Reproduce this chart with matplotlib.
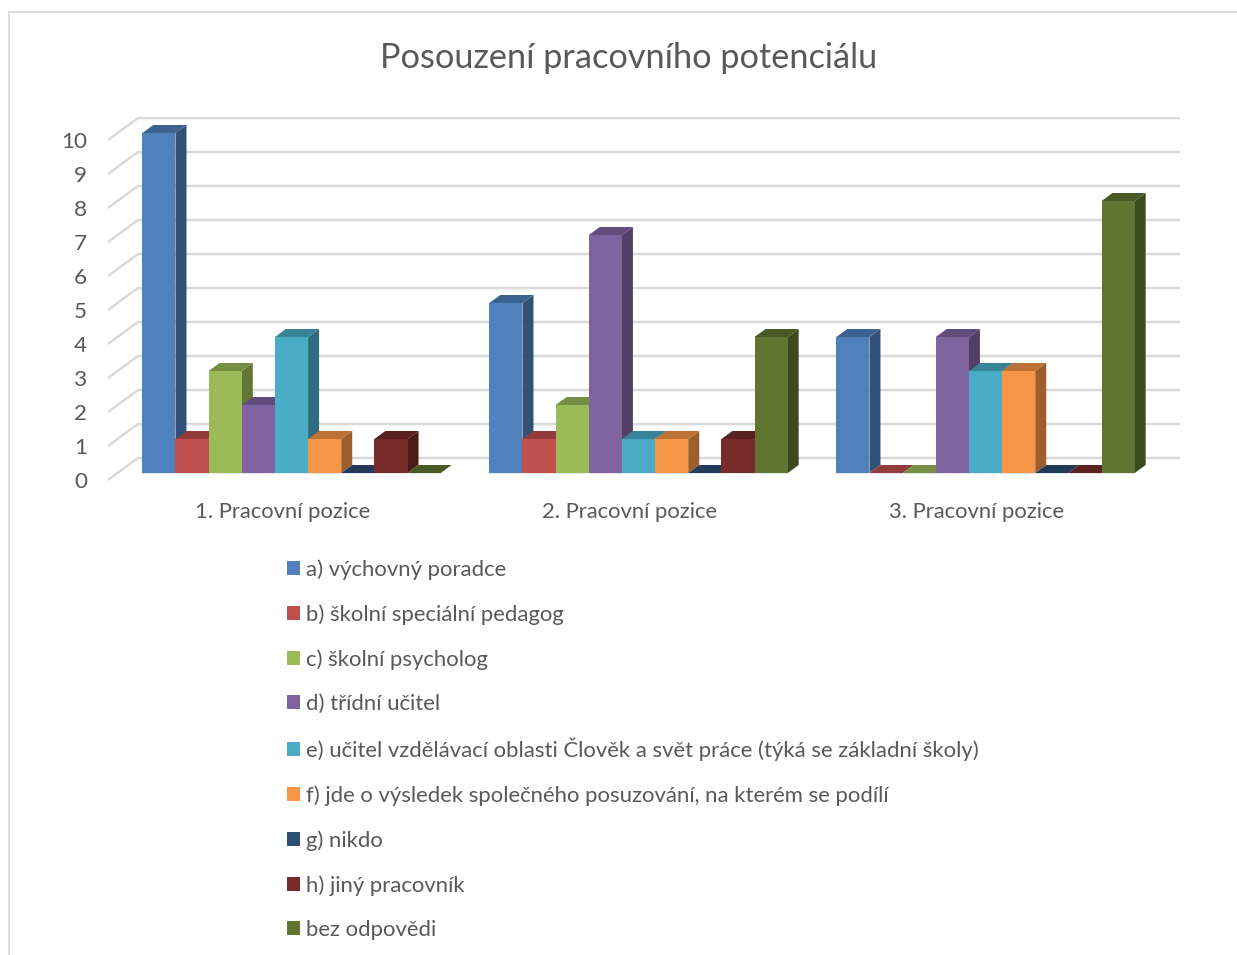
import matplotlib
matplotlib.use("Agg")
import matplotlib.pyplot as plt
from matplotlib.colors import to_rgb
from matplotlib.lines import Line2D
from matplotlib.patches import Patch
from matplotlib.transforms import ScaledTranslation

plt.rcParams['font.family'] = ['Lato', 'DejaVu Sans']

title = "Posouzení pracovního potenciálu"
categories = ["1. Pracovní pozice", "2. Pracovní pozice", "3. Pracovní pozice"]
series_names = [
    "a) výchovný poradce",
    "b) školní speciální pedagog",
    "c) školní psycholog",
    "d) třídní učitel",
    "e) učitel vzdělávací oblasti Člověk a svět práce (týká se základní školy)",
    "f) jde o výsledek společného posuzování, na kterém se podílí",
    "g) nikdo",
    "h) jiný pracovník",
    "bez odpovědi",
]
a_vychovny = [10, 5, 4]
b_specialni = [1, 1, 0]
c_psycholog = [3, 2, 0]
d_tridni = [2, 7, 4]
e_ucitel = [4, 1, 3]
f_spolecne = [1, 1, 3]
g_nikdo = [0, 0, 0]
h_jiny = [1, 1, 0]
bez_odpovedi = [0, 4, 8]
series_values = [a_vychovny, b_specialni, c_psycholog, d_tridni, e_ucitel,
                 f_spolecne, g_nikdo, h_jiny, bez_odpovedi]
y_ticks = list(range(0, 11))
colors = ["#4F81BD", "#C0504D", "#9BBB59", "#8064A2", "#4BACC6",
          "#F79646", "#2C4D75", "#772C2A", "#5F7530"]

W, H, DPI = 1237, 955, 100
PX_X = 347.0          # pixels per category
PX_Y = 34.0           # pixels per value unit
X0_PX, Y0_PX = 291.5, 473.0
LEFT_PX, RIGHT_PX = 108.0, 1180.0
TOP_PX, BOTTOM_PX = 117.0, 481.0
BAR_W = 33.15 / PX_X
DX, DY = 11.0 / PX_X, 8.0 / PX_Y
GRID = "#D9D9D9"
TEXT = "#595959"


def shade(color, factor):
    return tuple(c * factor for c in to_rgb(color))


fig = plt.figure(figsize=(W / DPI, H / DPI), dpi=DPI, facecolor="white")
ax = fig.add_axes([LEFT_PX / W, 1 - BOTTOM_PX / H,
                   (RIGHT_PX - LEFT_PX) / W, (BOTTOM_PX - TOP_PX) / H])
ax.set_xlim((LEFT_PX - X0_PX) / PX_X, (RIGHT_PX - X0_PX) / PX_X)
ax.set_ylim((Y0_PX - BOTTOM_PX) / PX_Y, (Y0_PX - TOP_PX) / PX_Y)
ax.patch.set_alpha(0)
for s in ax.spines.values():
    s.set_visible(False)

# gridlines: back wall plus the slanted side wall
wall_x = LEFT_PX + 30
for v in y_ticks:
    back = v + 15.0 / PX_Y
    front = v - 7.0 / PX_Y
    ax.plot([(LEFT_PX - X0_PX) / PX_X, (wall_x - X0_PX) / PX_X, (RIGHT_PX - X0_PX) / PX_X],
            [front, back, back], color=GRID, lw=1.8, zorder=1, solid_joinstyle="miter")

n = len(series_values)
for g in range(len(categories)):
    left = g - n * BAR_W / 2
    ax.plot([left, left + n * BAR_W], [0, 0], color="#E6E8F0", lw=1.4, zorder=1.5)
    for i, (vals, col) in enumerate(zip(series_values, colors)):
        v = vals[g]
        x = left + i * BAR_W
        z = 2 + g * 20 + i
        ax.bar(x, v, width=BAR_W, align="edge", color=col, linewidth=0, zorder=z + 0.2)
        ax.fill([x, x + BAR_W, x + BAR_W + DX, x + DX], [v, v, v + DY, v + DY],
                color=shade(col, 0.76), linewidth=0, zorder=z + 0.1)
        if v > 0:
            ax.fill([x + BAR_W, x + BAR_W + DX, x + BAR_W + DX, x + BAR_W],
                    [0, DY, v + DY, v], color=shade(col, 0.63), linewidth=0, zorder=z)

ax.set_yticks(y_ticks)
ax.set_yticklabels([str(t) for t in y_ticks])
ax.set_xticks(range(len(categories)))
ax.set_xticklabels(categories)
ax.tick_params(axis="y", length=0, pad=15, labelsize=16.2, labelcolor=TEXT)
ax.tick_params(axis="x", length=0, pad=14.8, labelsize=15.8, labelcolor=TEXT)
y_offset = ScaledTranslation(0, -7.0 / DPI, fig.dpi_scale_trans)
for lab in ax.get_yticklabels():
    lab.set_transform(lab.get_transform() + y_offset)
x_offset = ScaledTranslation(-8.5 / DPI, 0, fig.dpi_scale_trans)
for lab in ax.get_xticklabels():
    lab.set_transform(lab.get_transform() + x_offset)

fig.text(628.5 / W, 1 - 58 / H, title, ha="center", va="center", fontsize=24.7, color=TEXT)

handles = [Patch(facecolor=c, edgecolor="none") for c in colors]
legend_style = dict(loc="upper left", frameon=False, ncol=1, fontsize=15.9,
                    labelcolor=TEXT, borderpad=0, borderaxespad=0,
                    handlelength=0.6, handleheight=0.6, handletextpad=0.28,
                    labelspacing=1.107)
fig.legend(handles[:4], series_names[:4],
           bbox_to_anchor=(287 / W, 1 - 559 / H), **legend_style)
fig.legend(handles[4:], series_names[4:],
           bbox_to_anchor=(287 / W, 1 - 737 / H), **legend_style)

fig.add_artist(Line2D([8.5 / W, 8.5 / W, 1], [0, 1 - 12.5 / H, 1 - 12.5 / H],
                      transform=fig.transFigure, color="#DEDEDE", lw=1.4,
                      solid_joinstyle="miter"))

fig.savefig("out.png", dpi=DPI)
